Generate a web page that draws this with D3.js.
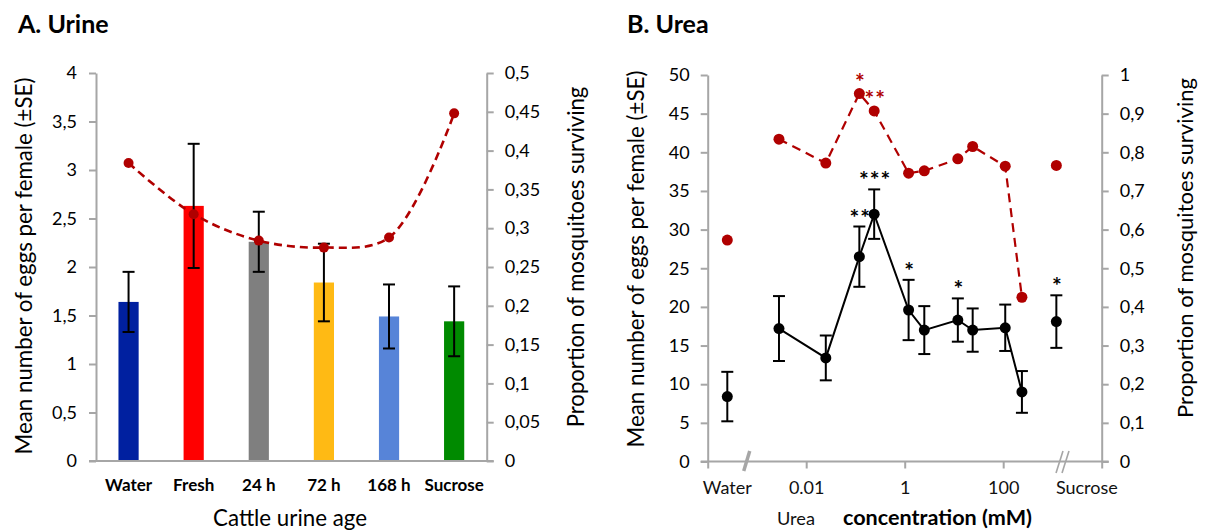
<!DOCTYPE html>
<html>
<head>
<meta charset="utf-8">
<script src="https://cdn.jsdelivr.net/npm/d3@7"></script>
<style>
  html, body { margin: 0; padding: 0; background: #fff; }
  svg { display: block; }
</style>
</head>
<body>
<svg id="chart" width="1208" height="531"></svg>
<script>
// ---------- Panel A: cattle urine age ----------
const ageCats   = ["Water", "Fresh", "24 h", "72 h", "168 h", "Sucrose"];
const ageEggs   = [1.64, 2.63, 2.26, 1.84, 1.49, 1.44];
const ageEggsSE = [0.31, 0.64, 0.31, 0.40, 0.33, 0.36];
const ageSurv   = [0.384, 0.318, 0.284, 0.275, 0.288, 0.448];
const ageColors = ["#0020a0", "#ff0000", "#7f7f7f", "#ffba14", "#5784d8", "#008a00"];
const eggTicksA  = [0, 0.5, 1, 1.5, 2, 2.5, 3, 3.5, 4];
const survTicksA = [0, 0.05, 0.1, 0.15, 0.2, 0.25, 0.3, 0.35, 0.4, 0.45, 0.5];

// ---------- Panel B: urea concentration (mM) ----------
const ureaConc    = [0.0028, 0.025, 0.12, 0.24, 1.2, 2.5, 12, 24, 110, 240];
const ureaEggs    = [17.2, 13.4, 26.5, 32.0, 19.6, 17.0, 18.3, 17.0, 17.3, 9.0];
const ureaEggsSE  = [4.2, 2.9, 3.9, 3.2, 3.9, 3.1, 2.8, 2.8, 3.0, 2.7];
const ureaSurv    = [0.834, 0.772, 0.952, 0.907, 0.746, 0.752, 0.783, 0.815, 0.764, 0.425];
const ureaEggsSig = ["", "", "**", "***", "*", "", "*", "", "", ""];
const ureaSurvSig = ["", "", "*", "**", "", "", "", "", "", ""];
const controlNames   = ["Water", "Sucrose"];
const controlEggs    = [8.4, 18.1];
const controlEggsSE  = [3.2, 3.4];
const controlSurv    = [0.573, 0.766];
const controlEggsSig = ["", "*"];
const eggTicksB   = [0, 5, 10, 15, 20, 25, 30, 35, 40, 45, 50];
const survTicksB  = [0, 0.1, 0.2, 0.3, 0.4, 0.5, 0.6, 0.7, 0.8, 0.9, 1];
const concTicks      = [1e-4, 1e-2, 1, 1e2, 1e4];
const concTickLabels = ["", "0.01", "1", "100", ""];

// ---------- shared styling ----------
const FONT = "Lato, 'Open Sans', 'DejaVu Sans', sans-serif";
const AXIS = "#a6a6a6";
const RED = "#b00000";
const commaFmt = d3.formatLocale({ decimal: ",", thousands: ".", grouping: [3], currency: ["", ""] }).format("~g");

const svg = d3.select("#chart").style("font-family", FONT);

function styleAxis(g, size) {
  g.attr("font-family", null).attr("font-size", null);
  g.select(".domain").attr("stroke", AXIS).attr("stroke-width", 2);
  g.selectAll(".tick line").attr("stroke", AXIS).attr("stroke-width", 2);
  g.selectAll(".tick text").attr("fill", "#000")
    .style("font-family", FONT).style("font-size", size + "px");
}

// scale a text's font size so that it spans the given length
function fitText(sel, base, target) {
  sel.style("font-size", base + "px");
  const len = sel.node().getComputedTextLength();
  sel.style("font-size", (base * target / len).toFixed(2) + "px");
}

function rotatedTitle(cx, cy, label, target) {
  const t = svg.append("text")
    .attr("transform", `translate(${cx},${cy}) rotate(-90)`)
    .attr("text-anchor", "middle")
    .attr("dominant-baseline", "central")
    .attr("fill", "#000")
    .text(label);
  fitText(t, 20, target);
  return t;
}

function errorBar(g, x, yTop, yBot, cap) {
  g.append("line").attr("x1", x).attr("x2", x).attr("y1", yTop).attr("y2", yBot);
  g.append("line").attr("x1", x - cap / 2).attr("x2", x + cap / 2).attr("y1", yTop).attr("y2", yTop);
  g.append("line").attr("x1", x - cap / 2).attr("x2", x + cap / 2).attr("y1", yBot).attr("y2", yBot);
}

// ================= Panel A =================
const A = { left: 96, right: 486.7, top: 73, bottom: 461 };
const xA = d3.scaleBand().domain(ageCats).range([A.left, A.right]).paddingInner(0.69).paddingOuter(0.345);
const yA = d3.scaleLinear().domain([0, 4]).range([A.bottom, A.top]);
const yA2 = d3.scaleLinear().domain([0, 0.5]).range([A.bottom, A.top]);
const cxA = c => xA(c) + xA.bandwidth() / 2;

svg.append("text").attr("x", 18).attr("y", 33)
  .attr("font-weight", "bold").style("font-size", "25px").attr("fill", "#000").text("A. Urine");

svg.append("g").attr("transform", `translate(${A.left},0)`)
  .call(d3.axisLeft(yA).tickValues(eggTicksA).tickSize(7).tickSizeOuter(0).tickPadding(12).tickFormat(commaFmt))
  .call(g => styleAxis(g, 18));

svg.append("g").attr("transform", `translate(${A.right},0)`)
  .call(d3.axisRight(yA2).tickValues(survTicksA).tickSize(7).tickSizeOuter(0).tickPadding(11).tickFormat(commaFmt))
  .call(g => styleAxis(g, 18));

// bars
svg.append("g").selectAll("rect").data(ageCats).join("rect")
  .attr("x", d => xA(d)).attr("width", xA.bandwidth())
  .attr("y", (d, i) => yA(ageEggs[i]))
  .attr("height", (d, i) => yA(0) - yA(ageEggs[i]))
  .attr("fill", (d, i) => ageColors[i]);

// category axis
svg.append("line").attr("x1", A.left - 7).attr("x2", A.right + 7)
  .attr("y1", A.bottom).attr("y2", A.bottom).attr("stroke", AXIS).attr("stroke-width", 2);
svg.append("g").attr("transform", `translate(0,${A.bottom})`)
  .call(d3.axisBottom(xA).tickSize(0).tickPadding(18))
  .call(g => { styleAxis(g, 17); g.select(".domain").remove(); g.selectAll(".tick text").attr("font-weight", "bold"); });

// error bars
const ebA = svg.append("g").attr("stroke", "#000").attr("stroke-width", 2);
ageCats.forEach((c, i) => errorBar(ebA, cxA(c), yA(ageEggs[i] + ageEggsSE[i]), yA(ageEggs[i] - ageEggsSE[i]), 12));

// survival curve
svg.append("path").datum(ageSurv)
  .attr("d", d3.line().x((d, i) => cxA(ageCats[i])).y(d => yA2(d)).curve(d3.curveCatmullRom.alpha(0.5)))
  .attr("fill", "none").attr("stroke", RED).attr("stroke-width", 2.6).attr("stroke-dasharray", "8,5");
svg.append("g").selectAll("circle").data(ageSurv).join("circle")
  .attr("cx", (d, i) => cxA(ageCats[i])).attr("cy", d => yA2(d)).attr("r", 5).attr("fill", RED);

rotatedTitle(23, 266, "Mean number of eggs per female (±SE)", 377);
rotatedTitle(575, 257, "Proportion of mosquitoes surviving", 341);
fitText(svg.append("text").attr("x", 290).attr("y", 526).attr("text-anchor", "middle").attr("fill", "#000")
  .text("Cattle urine age"), 20, 154);

// ================= Panel B =================
const B = { left: 707.7, right: 1101.7, top: 75, bottom: 461.5 };
const xB = d3.scaleLog().domain([1e-4, 1e4]).range([B.left, B.right]);
const yB = d3.scaleLinear().domain([0, 50]).range([B.bottom, B.top]);
const yB2 = d3.scaleLinear().domain([0, 1]).range([B.bottom, B.top]);
// controls sit outside the urea range, beyond the axis breaks
const controlPos = [2.5e-4, 1.2e3];
const controlLabelPos = [2.5e-4, 5e3];

svg.append("text").attr("x", 627).attr("y", 33)
  .attr("font-weight", "bold").style("font-size", "25px").attr("fill", "#000").text("B. Urea");

svg.append("g").attr("transform", `translate(${B.left},0)`)
  .call(d3.axisLeft(yB).tickValues(eggTicksB).tickSize(7).tickSizeOuter(0).tickPadding(11))
  .call(g => styleAxis(g, 18));
svg.append("g").attr("transform", `translate(${B.right},0)`)
  .call(d3.axisRight(yB2).tickValues(survTicksB).tickSize(7).tickSizeOuter(0).tickPadding(11).tickFormat(commaFmt))
  .call(g => styleAxis(g, 18));

svg.append("line").attr("x1", B.left - 7).attr("x2", B.right + 7)
  .attr("y1", B.bottom).attr("y2", B.bottom).attr("stroke", AXIS).attr("stroke-width", 2);
svg.append("g").attr("transform", `translate(0,${B.bottom})`)
  .call(d3.axisBottom(xB).tickValues(concTicks).tickSize(7).tickSizeOuter(0).tickPadding(13)
    .tickFormat((d, i) => concTickLabels[i]))
  .call(g => { styleAxis(g, 18); g.select(".domain").remove(); g.selectAll(".tick text").attr("fill", "#111"); });

svg.append("g").selectAll("text").data(controlNames).join("text")
  .attr("x", (d, i) => xB(controlLabelPos[i])).attr("y", 494)
  .attr("text-anchor", "middle").attr("fill", "#111").style("font-size", "18px").text(d => d);

// axis breaks
const brk = svg.append("g").attr("stroke", AXIS).attr("fill", "none");
const bL = xB(6.2e-4);
brk.append("line").attr("x1", bL - 3).attr("x2", bL + 3).attr("y1", 471).attr("y2", 451).attr("stroke-width", 3.5);
const bR = xB(1.6e3);
[-3, 3].forEach(o => brk.append("line").attr("x1", bR + o - 3.5).attr("x2", bR + o + 3.5)
  .attr("y1", 473).attr("y2", 451).attr("stroke-width", 1.6));

// eggs: error bars, line, points
const ebB = svg.append("g").attr("stroke", "#000").attr("stroke-width", 2);
ureaConc.forEach((c, i) => errorBar(ebB, xB(c), yB(ureaEggs[i] + ureaEggsSE[i]), yB(ureaEggs[i] - ureaEggsSE[i]), 12));
controlPos.forEach((c, i) => errorBar(ebB, xB(c), yB(controlEggs[i] + controlEggsSE[i]), yB(controlEggs[i] - controlEggsSE[i]), 12));

svg.append("path").datum(ureaEggs)
  .attr("d", d3.line().x((d, i) => xB(ureaConc[i])).y(d => yB(d)))
  .attr("fill", "none").attr("stroke", "#000").attr("stroke-width", 2);

const dotsB = svg.append("g");
dotsB.selectAll(".egg").data(ureaEggs).join("circle").attr("class", "egg")
  .attr("cx", (d, i) => xB(ureaConc[i])).attr("cy", d => yB(d)).attr("r", 5.5).attr("fill", "#000");
dotsB.selectAll(".eggc").data(controlEggs).join("circle").attr("class", "eggc")
  .attr("cx", (d, i) => xB(controlPos[i])).attr("cy", d => yB(d)).attr("r", 5.5).attr("fill", "#000");

// survival: dashed line, points
svg.append("path").datum(ureaSurv)
  .attr("d", d3.line().x((d, i) => xB(ureaConc[i])).y(d => yB2(d)))
  .attr("fill", "none").attr("stroke", RED).attr("stroke-width", 2.2).attr("stroke-dasharray", "9,6");
dotsB.selectAll(".surv").data(ureaSurv).join("circle").attr("class", "surv")
  .attr("cx", (d, i) => xB(ureaConc[i])).attr("cy", d => yB2(d)).attr("r", 5.5).attr("fill", RED);
dotsB.selectAll(".survc").data(controlSurv).join("circle").attr("class", "survc")
  .attr("cx", (d, i) => xB(controlPos[i])).attr("cy", d => yB2(d)).attr("r", 5.5).attr("fill", RED);

// significance marks
const stars = svg.append("g").attr("font-weight", "bold").style("font-size", "23px")
  .attr("text-anchor", "middle").style("letter-spacing", "1px");
ureaConc.forEach((c, i) => {
  if (ureaEggsSig[i]) stars.append("text").attr("x", xB(c) + 1).attr("y", yB(ureaEggs[i] + ureaEggsSE[i]) - 1)
    .attr("fill", "#000").text(ureaEggsSig[i]);
  if (ureaSurvSig[i]) stars.append("text").attr("x", xB(c) + 1).attr("y", yB2(ureaSurv[i]) - 4)
    .attr("fill", RED).text(ureaSurvSig[i]);
});
controlPos.forEach((c, i) => {
  if (controlEggsSig[i]) stars.append("text").attr("x", xB(c) + 1)
    .attr("y", yB(controlEggs[i] + controlEggsSE[i]) - 1).attr("fill", "#000").text(controlEggsSig[i]);
});

rotatedTitle(635, 259, "Mean number of eggs per female (±SE)", 377);
rotatedTitle(1184, 248, "Proportion of mosquitoes surviving", 340);
fitText(svg.append("text").attr("x", 796).attr("y", 525).attr("text-anchor", "middle").attr("fill", "#111")
  .text("Urea"), 18, 38);
fitText(svg.append("text").attr("x", 937.5).attr("y", 525).attr("text-anchor", "middle").attr("fill", "#000")
  .attr("font-weight", "bold").text("concentration (mM)"), 19, 189);
</script>
</body>
</html>
